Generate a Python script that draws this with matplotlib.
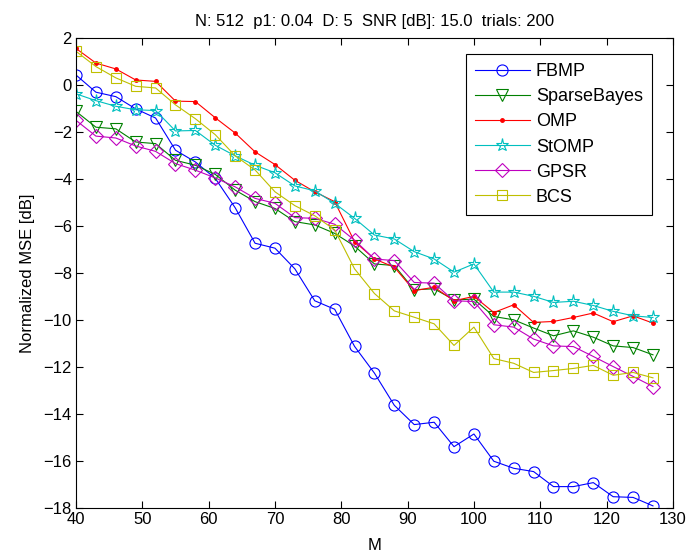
import numpy as np
import matplotlib.pyplot as plt

plt.rcParams['font.family'] = ['Liberation Sans', 'DejaVu Sans']

M = np.arange(40, 128, 3)

fbmp = [0.43, -0.30, -0.49, -1.01, -1.40, -2.77, -3.27, -3.97, -5.22, -6.73,
        -6.94, -7.82, -9.18, -9.54, -11.12, -12.26, -13.63, -14.45, -14.35, -15.39,
        -14.85, -16.01, -16.31, -16.45, -17.09, -17.09, -16.92, -17.52, -17.55, -17.91]
sparsebayes = [-1.12, -1.79, -1.86, -2.42, -2.49, -3.20, -3.41, -3.80, -4.47, -4.96,
               -5.25, -5.81, -5.95, -6.31, -6.85, -7.61, -7.68, -8.71, -8.67, -9.14,
               -9.11, -9.85, -9.99, -10.34, -10.67, -10.46, -10.73, -11.10, -11.17, -11.48]
omp = [1.56, 0.94, 0.69, 0.22, 0.16, -0.68, -0.70, -1.39, -2.04, -2.84,
       -3.38, -4.05, -4.54, -4.96, -6.66, -7.40, -7.75, -8.75, -8.60, -9.18,
       -8.99, -9.68, -9.35, -10.10, -10.06, -9.89, -9.70, -10.07, -9.82, -10.13]
stomp = [-0.37, -0.66, -0.90, -1.05, -1.08, -1.95, -1.93, -2.56, -3.01, -3.41,
         -3.73, -4.29, -4.50, -5.03, -5.67, -6.38, -6.55, -7.09, -7.40, -7.96,
         -7.61, -8.81, -8.81, -8.99, -9.25, -9.20, -9.38, -9.63, -9.82, -9.89]
gpsr = [-1.50, -2.17, -2.25, -2.59, -2.82, -3.34, -3.62, -3.95, -4.33, -4.82,
        -5.03, -5.64, -5.67, -5.92, -6.60, -7.40, -7.47, -8.40, -8.43, -9.18,
        -9.21, -10.20, -10.30, -10.81, -11.10, -11.13, -11.55, -11.98, -12.40, -12.83]
bcs = [1.44, 0.79, 0.31, -0.05, -0.12, -0.84, -1.43, -2.11, -3.01, -3.61,
       -4.54, -5.13, -5.56, -6.16, -7.82, -8.87, -9.61, -9.88, -10.16, -11.08,
       -10.30, -11.64, -11.84, -12.23, -12.15, -12.06, -11.93, -12.35, -12.23, -12.46]

series = [
    ('FBMP', fbmp, (0, 0, 1), 'o', 8),
    ('SparseBayes', sparsebayes, (0, 0.5, 0), 'v', 8.5),
    ('OMP', omp, (1, 0, 0), '.', 5),
    ('StOMP', stomp, (0, 0.75, 0.75), '*', 9.5),
    ('GPSR', gpsr, (0.75, 0, 0.75), 'D', 7.5),
    ('BCS', bcs, (0.75, 0.75, 0), 's', 7),
]

fig = plt.figure(figsize=(6.88, 5.53), dpi=100)
ax = fig.add_axes([0.1105, 0.0814, 0.8675, 0.8496])

for name, vals, col, mk, ms in series:
    if mk == '.':
        ax.plot(M, vals, color=col, marker=mk, markersize=ms, linewidth=0.8, label=name)
    else:
        ax.plot(M, vals, color=col, marker=mk, markersize=ms, markerfacecolor='none',
                markeredgewidth=0.8, linewidth=0.8, label=name)

ax.set_xlim(40, 130)
ax.set_ylim(-18, 2)
ax.set_xticks(np.arange(40, 131, 10))
ax.set_yticks(np.arange(-18, 3, 2))
ax.set_yticklabels([str(v).replace('-', '\u2212') for v in range(-18, 3, 2)])
ax.tick_params(direction='in', top=True, right=True, labelsize=12, length=5, pad=3)
ax.set_xlabel('M', fontsize=12, labelpad=8)
ax.set_ylabel('Normalized MSE [dB]', fontsize=12, labelpad=6)
ax.set_title('N: 512  p1: 0.04  D: 5  SNR [dB]: 15.0  trials: 200', fontsize=12, pad=9)

leg = ax.legend(loc='upper right', bbox_to_anchor=(0.9648, 0.966), borderaxespad=0,
                fontsize=13, fancybox=False, edgecolor='black', framealpha=1,
                handlelength=3.0, borderpad=0.5, labelspacing=0.45, handletextpad=0.35)
leg.get_frame().set_linewidth(0.8)

fig.savefig('out.png', dpi=100)
